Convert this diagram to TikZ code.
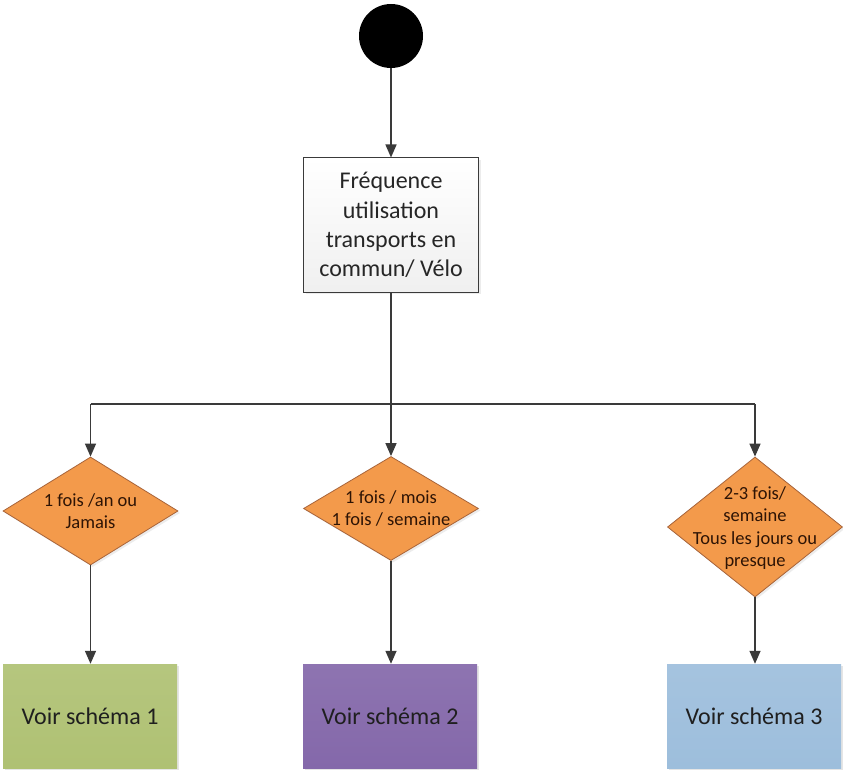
\documentclass[tikz,border=0pt]{standalone}
\usepackage{fontspec}
\setmainfont{Carlito}
\usetikzlibrary{arrows.meta,shapes.geometric,shadows}
\definecolor{linec}{HTML}{3A3A3A}
\definecolor{orangef}{HTML}{F39A4B}
\definecolor{oranged}{HTML}{A8643A}
\definecolor{difftext}{HTML}{2E1405}
\definecolor{greenf}{HTML}{AFC173}
\definecolor{purplef}{HTML}{8468AA}
\definecolor{bluef}{HTML}{9DBEDC}
\tikzset{
  conn/.style={draw=linec, line width=1.4pt, -{Triangle[width=11pt,length=13pt]}},
  plain/.style={draw=linec, line width=1.4pt},
  decision/.style={shape=diamond, draw=oranged, line width=0.8pt, fill=orangef, inner sep=0pt, minimum width=175pt, drop shadow={opacity=0.15, shadow xshift=2pt, shadow yshift=-2pt}},
  dtext/.style={align=center, text=difftext, font=\fontsize{18.5}{22.5}\selectfont, inner sep=0pt},
  result/.style={draw=none, minimum width=174pt, minimum height=104pt, inner sep=0pt, font=\fontsize{24}{29}\selectfont, text=black!88, drop shadow={opacity=0.2, shadow xshift=2pt, shadow yshift=-2pt}},
}
\begin{document}
\begin{tikzpicture}[x=1pt,y=-1pt]
\useasboundingbox (0,0) rectangle (843,770);
\fill[white] (0,0) rectangle (843,770);
% start
\node (start) [circle, fill=black, minimum size=64pt, inner sep=0pt] at (391,36) {};
% question box
\node (q) [draw=linec, line width=1pt, top color=white, bottom color=black!6, minimum width=175pt, minimum height=134pt, align=center, inner sep=0pt, font=\fontsize{24}{29.3}\selectfont, text=black!85, drop shadow={opacity=0.15, shadow xshift=2pt, shadow yshift=-2pt}] at (391,225) {Fréquence\\utilisation\\transports en\\commun/ Vélo};
% decisions
\node (d1) [decision, minimum height=108pt] at (90.5,511) {};
\node (d2) [decision, minimum height=104pt] at (391,508.5) {};
\node (d3) [decision, minimum height=140pt] at (755,527) {};
\node (t1) [dtext] at (d1.center) {1 fois /an ou\\Jamais};
\node (t2) [dtext] at (d2.center) {1 fois / mois\\1 fois / semaine};
\node (t3) [dtext] at ([yshift=-1pt]d3.center) {2-3 fois/\\semaine\\Tous les jours ou\\presque};
% results
\node (r1) [result, top color=greenf!92!white, bottom color=greenf] at (90,716) {Voir schéma 1};
\node (r2) [result, top color=purplef!92!white, bottom color=purplef] at (390,716) {Voir schéma 2};
\node (r3) [result, top color=bluef!92!white, bottom color=bluef] at (754,716) {Voir schéma 3};
% connectors
\coordinate (split) at (391,404);
\coordinate (j1) at (90.5,404);
\coordinate (j3) at (755,404);
\draw[conn] (start) -- (q);
\draw[plain] (q.south) -- (split);
\draw[plain] (j1) -- (j3);
\draw[conn] (j1) -- (d1.north);
\draw[conn] (split) -- (d2.north);
\draw[conn] (j3) -- (d3.north);
\draw[conn] (d1.south) -- (r1.north -| d1.south);
\draw[conn] (d2.south) -- (r2.north -| d2.south);
\draw[conn] (d3.south) -- (r3.north -| d3.south);
\end{tikzpicture}
\end{document}
